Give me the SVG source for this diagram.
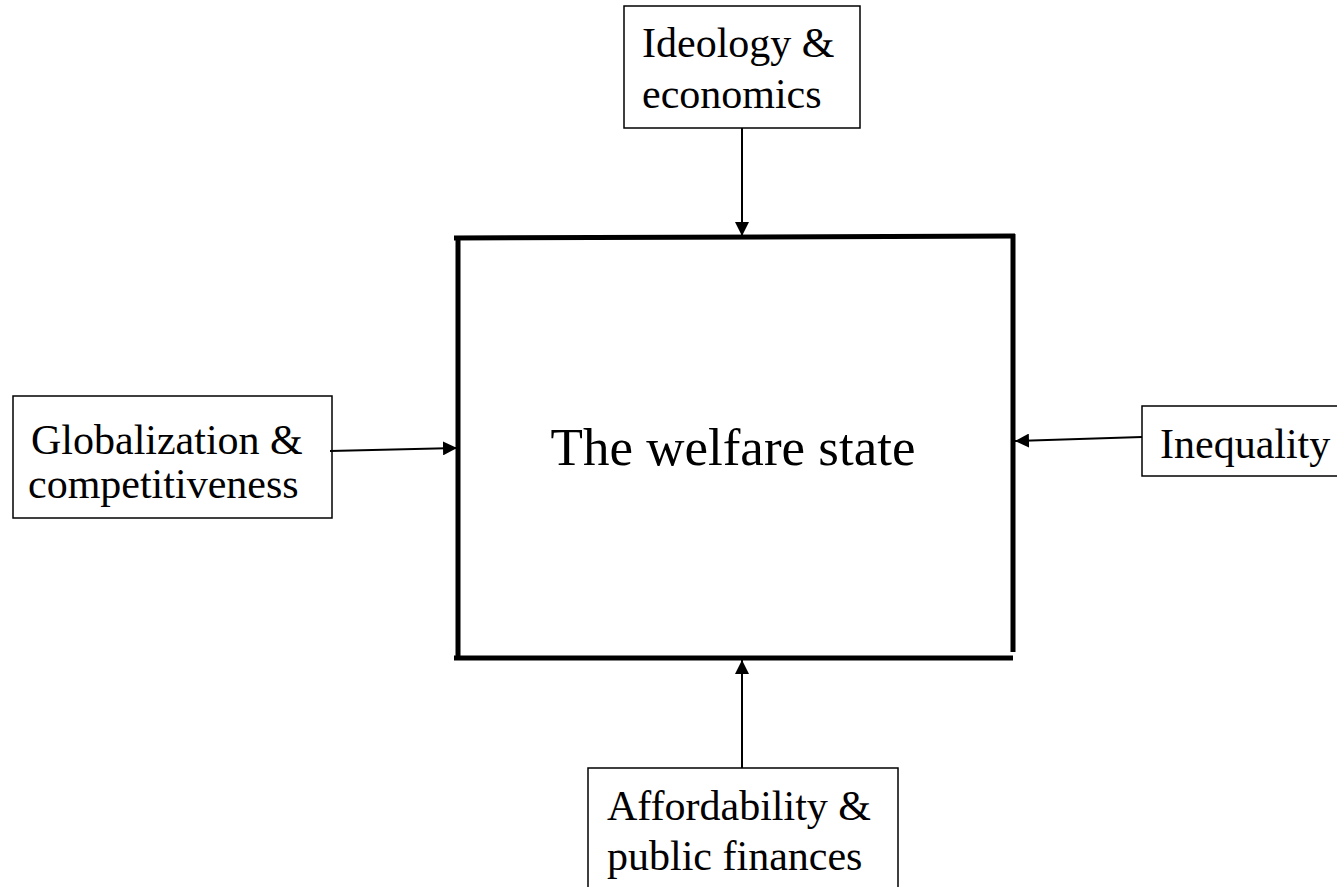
<svg xmlns="http://www.w3.org/2000/svg" width="1337" height="887" viewBox="0 0 1337 887">
<defs>
<style>
.box{fill:#fff;stroke:#000;stroke-width:1.5}
.t{font-family:"Liberation Serif","Times New Roman",serif;font-size:42px;fill:#000}
.main{stroke:#000;stroke-width:5;fill:none}
.c{stroke:#000;stroke-width:2;fill:none}
</style>
<marker id="ah" markerUnits="userSpaceOnUse" markerWidth="15" markerHeight="14" refX="14" refY="7" orient="auto">
<path d="M0,0 L14,7 L0,14 z" fill="#000"/>
</marker>
</defs>
<rect width="1337" height="887" fill="#fff"/>
<g id="welfare-state">
<line class="main" x1="454" y1="238" x2="1015" y2="236"/>
<line class="main" x1="458" y1="236" x2="458" y2="660"/>
<line class="main" x1="1013" y1="234" x2="1013" y2="652"/>
<line class="main" x1="454" y1="658" x2="1013" y2="658"/>
<text class="t" x="733" y="465" text-anchor="middle" style="font-size:53px">The welfare state</text>
</g>
<g id="ideology">
<rect class="box" x="624" y="6" width="236" height="122"/>
<text class="t" x="642" y="57">Ideology &amp;</text>
<text class="t" x="642" y="108">economics</text>
</g>
<g id="globalization">
<rect class="box" x="13" y="396" width="319" height="122"/>
<text class="t" x="31" y="454">Globalization &amp;</text>
<text class="t" x="28" y="498">competitiveness</text>
</g>
<g id="inequality">
<rect class="box" x="1142" y="406" width="200" height="70"/>
<text class="t" x="1160" y="458">Inequality</text>
</g>
<g id="affordability">
<rect class="box" x="588" y="768" width="310" height="130"/>
<text class="t" x="607" y="820">Affordability &amp;</text>
<text class="t" x="607" y="870">public finances</text>
</g>
<g id="connectors">
<line class="c" x1="742" y1="128" x2="742" y2="236" marker-end="url(#ah)"/>
<line class="c" x1="330" y1="451" x2="457" y2="448" marker-end="url(#ah)"/>
<line class="c" x1="1142" y1="437" x2="1015" y2="441" marker-end="url(#ah)"/>
<line class="c" x1="742" y1="768" x2="742" y2="660" marker-end="url(#ah)"/>
</g>
</svg>
